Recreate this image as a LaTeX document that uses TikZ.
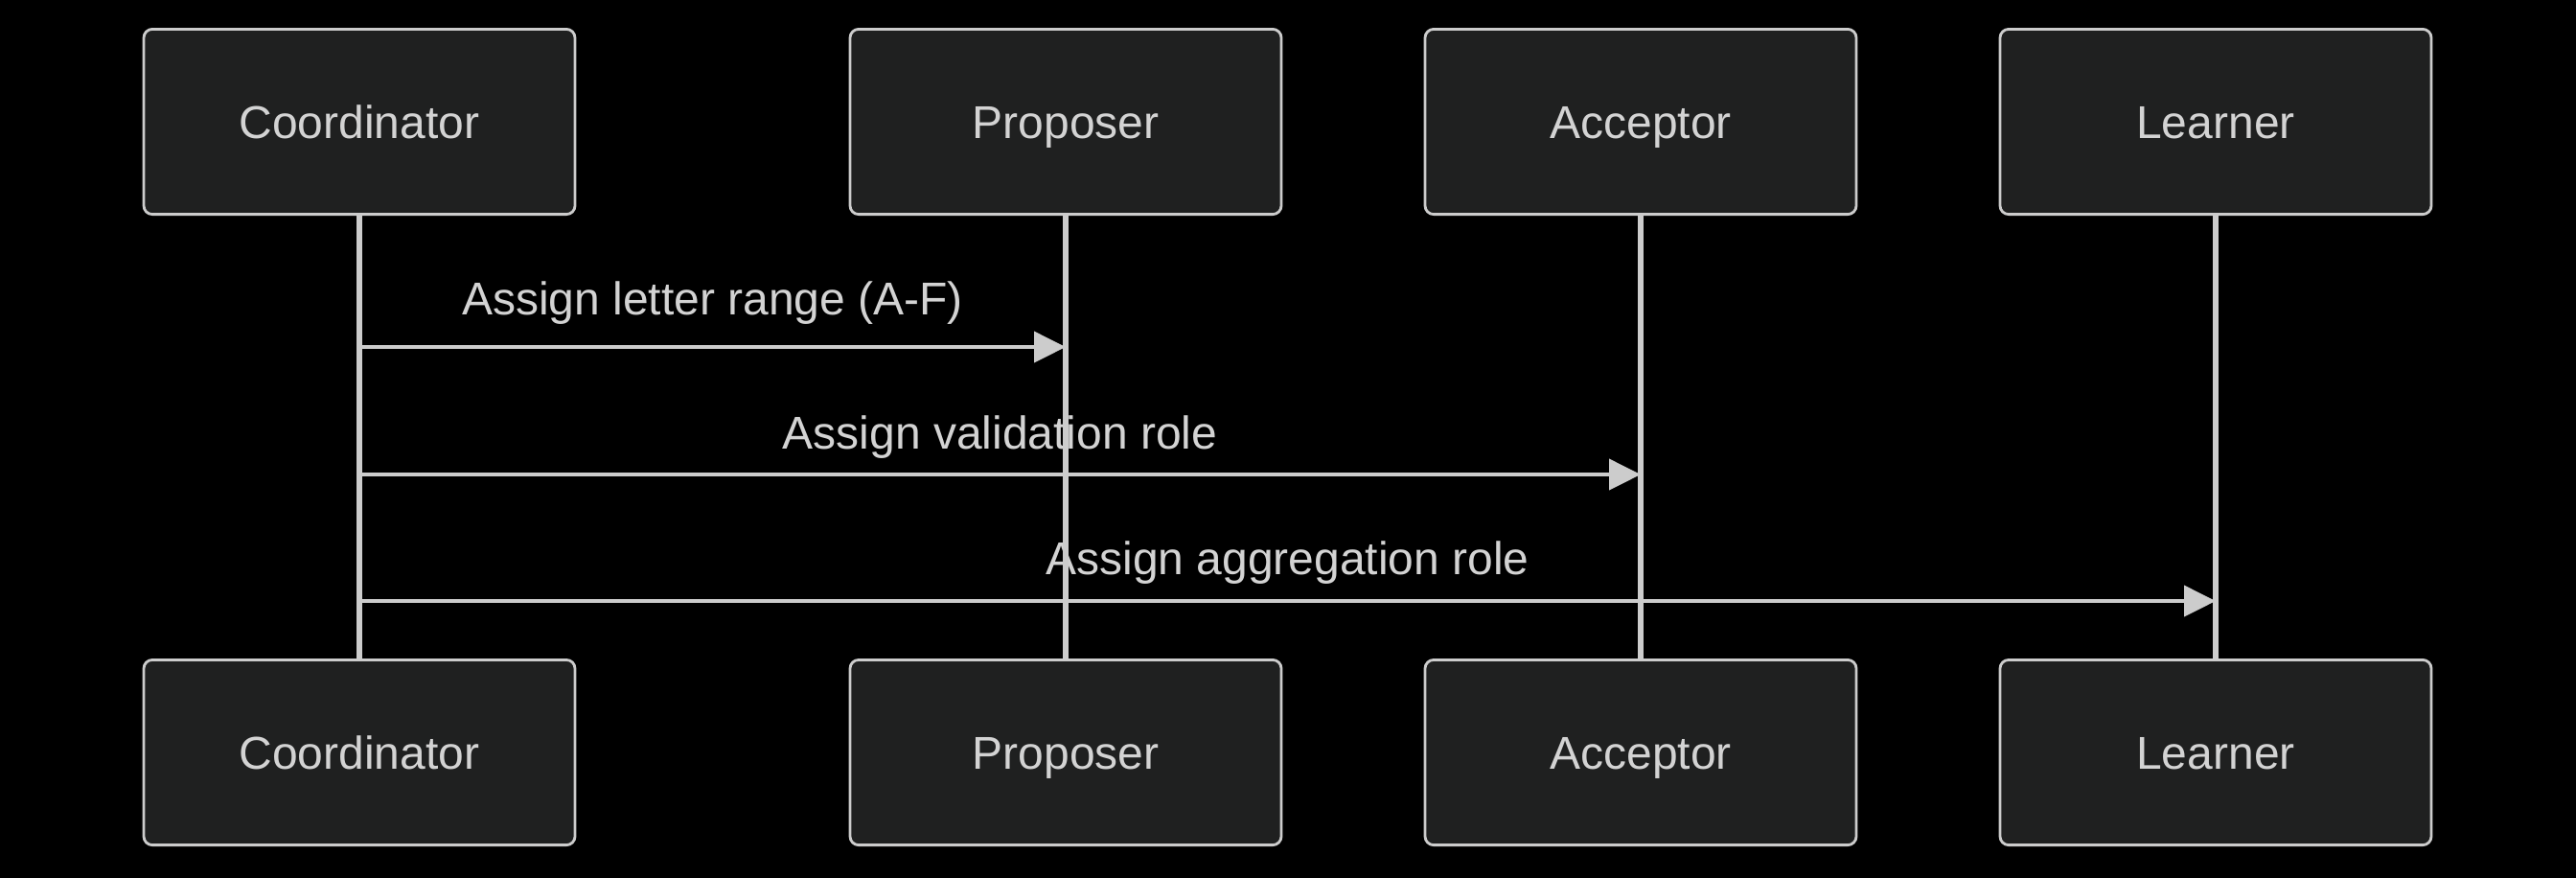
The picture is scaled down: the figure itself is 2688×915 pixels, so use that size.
\documentclass[tikz,border=0pt]{standalone}
\usepackage{fontspec}
\setmainfont{Liberation Sans}
\usepackage{tikz}
\usetikzlibrary{arrows.meta}

\definecolor{boxfill}{HTML}{1F2020}
\definecolor{linegray}{HTML}{CCCCCC}
\definecolor{textgray}{HTML}{D3D3D3}

\begin{document}
\begin{tikzpicture}[x=0.25pt, y=-0.25pt,
    actor/.style={draw=linegray, line width=0.7pt, fill=boxfill, rounded corners=2.25pt,
        minimum width=112.5pt, minimum height=48.3pt, text=textgray,
        font=\fontsize{12}{14}\selectfont, text height=8.6pt, text depth=0pt},
    life/.style={draw=linegray, line width=1.3pt},
    msg/.style={draw=linegray, line width=1pt, -{Triangle[length=8.25pt, width=8pt]}},
    lbl/.style={text=textgray, font=\fontsize{12}{14}\selectfont,
        inner sep=0pt, text height=8.6pt, text depth=0pt}]

    % Background
    \useasboundingbox (0,0) rectangle (2688,915);
    \fill[black] (-10,-10) rectangle (2698,925);

    % Top row
    \node[actor] (t1) at (375, 127) {Coordinator};
    \node[actor] (t2) at (1112, 127) {Proposer};
    \node[actor] (t3) at (1712, 127) {Acceptor};
    \node[actor] (t4) at (2312, 127) {Learner};

    % Bottom row
    \node[actor] (b1) at (375, 785) {Coordinator};
    \node[actor] (b2) at (1112, 785) {Proposer};
    \node[actor] (b3) at (1712, 785) {Acceptor};
    \node[actor] (b4) at (2312, 785) {Learner};

    % Message ends
    \coordinate (m1a) at (t1 |- 0,362);
    \coordinate (m1b) at (t2 |- 0,362);
    \coordinate (m2a) at (t1 |- 0,495);
    \coordinate (m2b) at (t3 |- 0,495);
    \coordinate (m3a) at (t1 |- 0,627);
    \coordinate (m3b) at (t4 |- 0,627);

    % Messages
    \draw[msg] (m1a) -- node[midway, lbl, above=7.9pt] {Assign letter range (A-F)} (m1b);
    \draw[msg] (m2a) -- node[midway, lbl, above=6.2pt] {Assign validation role} (m2b);
    \draw[msg] (m3a) -- node[midway, lbl, above=6.4pt] {Assign aggregation role} (m3b);

    % Lifelines
    \draw[life] (t1) -- (b1);
    \draw[life] (t2) -- (b2);
    \draw[life] (t3) -- (b3);
    \draw[life] (t4) -- (b4);

\end{tikzpicture}
\end{document}
